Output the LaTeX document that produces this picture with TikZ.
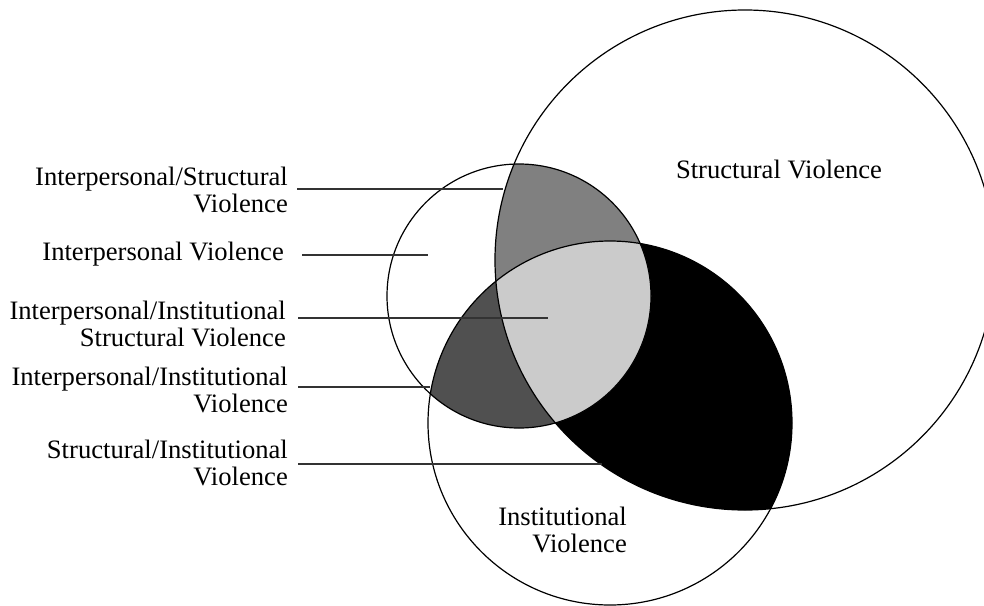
\documentclass[tikz,border=0pt]{standalone}
\usepackage{fontspec}
\setmainfont{Liberation Serif}
\definecolor{midgray}{HTML}{808080}
\definecolor{darkgray}{HTML}{505050}
\definecolor{lightgray}{HTML}{CBCBCB}
\definecolor{ptrgray}{HTML}{333333}
\begin{document}
\begin{tikzpicture}[x=1pt,y=-1pt,
  lbl/.style={inner sep=0pt, font=\fontsize{26.6}{27}\selectfont, align=right},
  ptr/.style={draw=ptrgray, line width=1.1pt},
  ring/.style={draw=black, line width=1.2pt}]
\useasboundingbox (0,0) rectangle (984,605);
\clip (0,0) rectangle (984,605);
% fills
\begin{scope}
  \clip (745,260) circle[radius=250pt];
  \fill[black] (610,423) circle[radius=182pt];
\end{scope}
\begin{scope}
  \clip (519,296) circle[radius=132pt];
  \fill[midgray] (745,260) circle[radius=250pt];
\end{scope}
\begin{scope}
  \clip (519,296) circle[radius=132pt];
  \fill[darkgray] (610,423) circle[radius=182pt];
\end{scope}
\begin{scope}
  \clip (519,296) circle[radius=132pt];
  \clip (745,260) circle[radius=250pt];
  \fill[lightgray] (610,423) circle[radius=182pt];
\end{scope}
% outlines
\draw[ring] (745,260) circle[radius=250pt];
\draw[ring] (519,296) circle[radius=132pt];
\draw[ring] (610,423) circle[radius=182pt];
% circle labels
\node[lbl, anchor=base] (sv) at (779,178) {Structural Violence};
\node[lbl, anchor=base east] (iv) at (627,552) {Institutional\\Violence};
% side labels
\node[lbl, anchor=base east] (t1) at (288,212) {Interpersonal/Structural\\Violence};
\node[lbl, anchor=base east] (t2) at (284,260) {Interpersonal Violence};
\node[lbl, anchor=base east] (t3) at (286,346) {Interpersonal/Institutional\\Structural Violence};
\node[lbl, anchor=base east] (t4) at (288,412) {Interpersonal/Institutional\\Violence};
\node[lbl, anchor=base east] (t5) at (288,485) {Structural/Institutional\\Violence};
% pointer lines
\coordinate (a1) at (297,189); \coordinate (b1) at (503,189);
\coordinate (a2) at (302,255); \coordinate (b2) at (428,255);
\coordinate (a3) at (298,318); \coordinate (b3) at (548,318);
\coordinate (a4) at (298,387); \coordinate (b4) at (430,387);
\coordinate (a5) at (298,464); \coordinate (b5) at (602,464);
\draw[ptr] (a1) -- (b1);
\draw[ptr] (a2) -- (b2);
\draw[ptr] (a3) -- (b3);
\draw[ptr] (a4) -- (b4);
\draw[ptr] (a5) -- (b5);
\end{tikzpicture}
\end{document}
